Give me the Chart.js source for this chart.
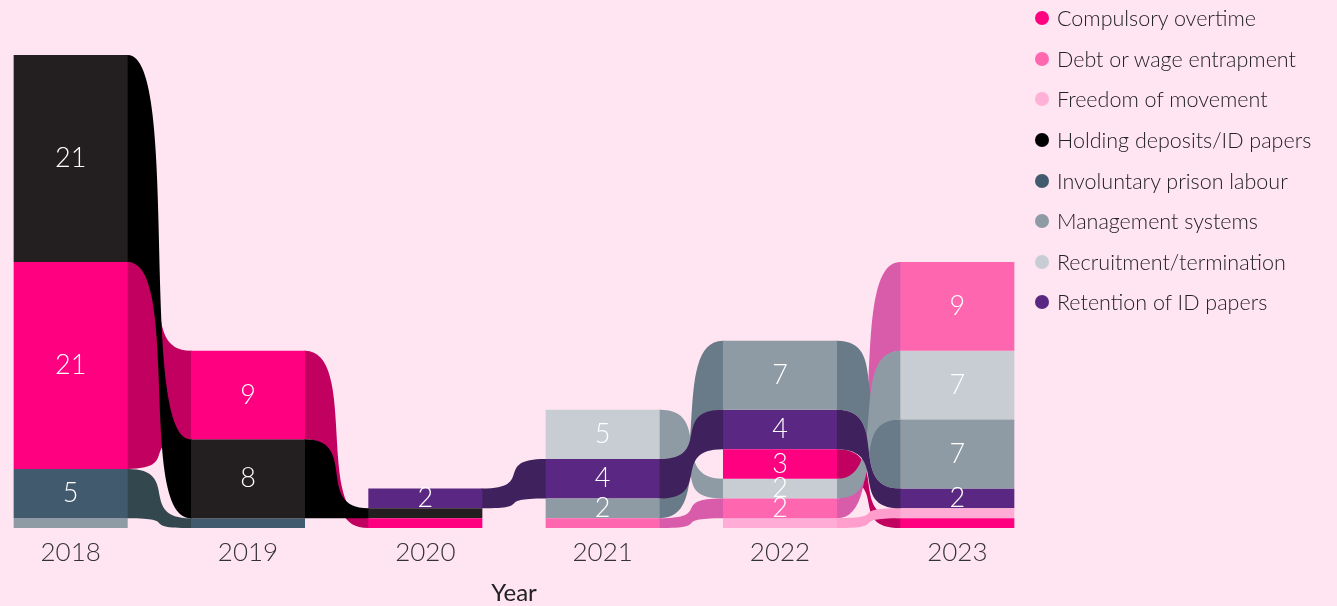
<!DOCTYPE html>
<html>
<head>
<meta charset="utf-8">
<title>Forced labour indicators by year</title>
<script src="https://cdn.jsdelivr.net/npm/chart.js@4.4.1/dist/chart.umd.min.js"></script>
<style>
  html, body { margin: 0; padding: 0; background: #FFE4F1; }
  #wrap { position: relative; width: 1337px; height: 606px; overflow: hidden; background: #FFE4F1; font-family: Lato, "Open Sans", sans-serif; }
  #chartBox { position: absolute; left: -18px; top: 0; width: 1064px; height: 606px; }
  #legend { position: absolute; left: 1035px; top: -2px; margin: 0; padding: 0; list-style: none; }
  #legend li { height: 40.57px; display: flex; align-items: center; font-size: 21.5px; font-weight: 300; color: #222; white-space: nowrap; }
  #legend .dot { width: 14px; height: 14px; border-radius: 50%; margin-right: 8px; flex: none; }
</style>
</head>
<body>
<div id="wrap">
  <div id="chartBox"><canvas id="ribbonChart"></canvas></div>
  <ul id="legend"></ul>
</div>
<script>
// Anos e categorias
const years = ['2018', '2019', '2020', '2021', '2022', '2023'];
const categories = [
  'Compulsory overtime',
  'Debt or wage entrapment',
  'Freedom of movement',
  'Holding deposits/ID papers',
  'Involuntary prison labour',
  'Management systems',
  'Recruitment/termination',
  'Retention of ID papers'
];

// Valores por categoria (um por ano, 0 = sem registo)
const compulsoryOvertime = [21, 9, 1, 0, 3, 1];
const debtWage           = [0, 0, 0, 1, 2, 9];
const freedomMovement    = [0, 0, 0, 0, 1, 1];
const holdingDeposits    = [21, 8, 1, 0, 0, 0];
const prisonLabour       = [5, 1, 0, 0, 0, 0];
const managementSystems  = [1, 0, 0, 2, 7, 7];
const recruitment        = [0, 0, 0, 5, 2, 7];
const retentionPapers    = [0, 0, 2, 4, 4, 2];

const seriesValues = [compulsoryOvertime, debtWage, freedomMovement, holdingDeposits,
  prisonLabour, managementSystems, recruitment, retentionPapers];

const barColors    = ['#FF0080', '#FF66B0', '#FFADD6', '#231F20', '#425A6D', '#8E9BA5', '#C7CDD3', '#5A2782'];
const ribbonColors = ['#C2005F', '#D95CAA', '#FF9DCD', '#000000', '#33474F', '#697B88', '#8E9BA5', '#3F215E'];
const legendColors = ['#FF0080', '#FF66B0', '#FFB0D6', '#000000', '#425A6D', '#8E9BA5', '#C7CDD3', '#5A2782'];

// Empilhamento por ano: maior valor em cima, menor em baixo
const ranges = categories.map(() => years.map(() => null));
years.forEach((year, i) => {
  const order = categories.map((c, k) => k)
    .filter(k => seriesValues[k][i] > 0)
    .sort((a, b) => seriesValues[a][i] - seriesValues[b][i] || a - b);
  let base = 0;
  order.forEach(k => {
    ranges[k][i] = [base, base + seriesValues[k][i]];
    base += seriesValues[k][i];
  });
});

// Fitas entre anos consecutivos (desenhadas por trás das barras)
const ribbonPlugin = {
  id: 'ribbons',
  beforeDatasetsDraw(chart) {
    const ctx = chart.ctx;
    ctx.save();
    chart.data.datasets.forEach((ds, k) => {
      const bars = chart.getDatasetMeta(k).data;
      for (let i = 0; i < years.length - 1; i++) {
        if (!ds.data[i] || !ds.data[i + 1]) continue;
        const a = bars[i], b = bars[i + 1];
        const x1 = a.x + a.width / 2, x2 = b.x - b.width / 2;
        const w = x2 - x1;
        const c1 = x1 + w * 0.85, c2 = x2 - w * 0.85;
        ctx.beginPath();
        ctx.moveTo(x1 - 1, a.y);
        ctx.lineTo(x1, a.y);
        ctx.bezierCurveTo(c1, a.y, c2, b.y, x2, b.y);
        ctx.lineTo(x2 + 1, b.y);
        ctx.lineTo(x2 + 1, b.base);
        ctx.lineTo(x2, b.base);
        ctx.bezierCurveTo(c2, b.base, c1, a.base, x1, a.base);
        ctx.lineTo(x1 - 1, a.base);
        ctx.closePath();
        ctx.fillStyle = ribbonColors[k];
        ctx.fill();
      }
    });
    ctx.restore();
  }
};

// Valores dentro das barras (só a partir de 2)
const valueLabelPlugin = {
  id: 'valueLabels',
  afterDatasetsDraw(chart) {
    const ctx = chart.ctx;
    ctx.save();
    ctx.fillStyle = '#FFFFFF';
    ctx.font = '300 27px Lato, "Open Sans", sans-serif';
    ctx.textAlign = 'center';
    ctx.textBaseline = 'middle';
    chart.data.datasets.forEach((ds, k) => {
      chart.getDatasetMeta(k).data.forEach((bar, i) => {
        const v = seriesValues[k][i];
        if (!v || v < 2) return;
        ctx.fillText(String(v), bar.x, (bar.y + bar.base) / 2);
      });
    });
    ctx.restore();
  }
};

new Chart(document.getElementById('ribbonChart'), {
  type: 'bar',
  data: {
    labels: years,
    datasets: categories.map((name, k) => ({
      label: name,
      data: ranges[k],
      backgroundColor: barColors[k],
      borderWidth: 0,
      grouped: false,
      categoryPercentage: 1,
      barPercentage: 0.643
    }))
  },
  options: {
    responsive: true,
    maintainAspectRatio: false,
    animation: false,
    layout: { padding: { top: 55, left: 0, right: 0, bottom: 0 } },
    plugins: {
      legend: { display: false },
      tooltip: { enabled: false }
    },
    scales: {
      x: {
        offset: true,
        grid: { display: false, drawTicks: false },
        border: { display: false },
        ticks: { color: '#333', padding: 9, font: { family: 'Lato', size: 26, weight: 300 } },
        title: {
          display: true, text: 'Year', color: '#222',
          font: { family: 'Lato', size: 24, weight: 400 },
          padding: { top: 0, bottom: -2 }
        },
        afterFit(scale) { scale.height = 78; }
      },
      y: { display: false, min: 0, max: 48 }
    }
  },
  plugins: [ribbonPlugin, valueLabelPlugin]
});

// Legenda à direita
const legendEl = document.getElementById('legend');
categories.forEach((name, k) => {
  const li = document.createElement('li');
  const dot = document.createElement('span');
  dot.className = 'dot';
  dot.style.background = legendColors[k];
  li.appendChild(dot);
  li.appendChild(document.createTextNode(name));
  legendEl.appendChild(li);
});
</script>
</body>
</html>
